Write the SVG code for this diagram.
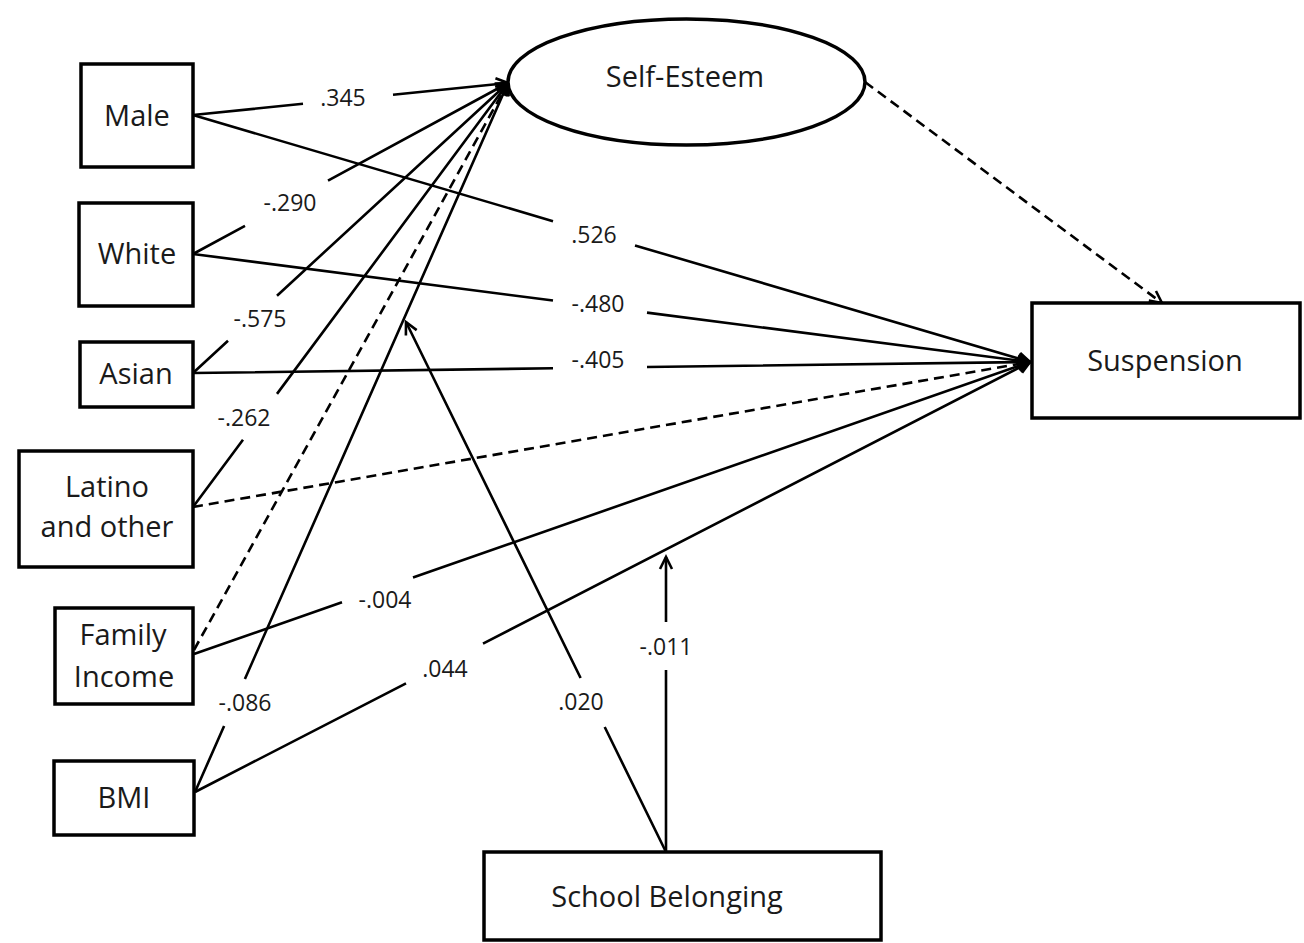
<svg xmlns="http://www.w3.org/2000/svg" width="1304" height="943" viewBox="0 0 1304 943">
<style>
.box{fill:#fff;stroke:#000;stroke-width:3.5}
.lbl{font-family:"Open Sans","Noto Sans",sans-serif;font-size:29px;fill:#1a1a1a;text-anchor:middle}
.val{font-family:"Open Sans","Noto Sans",sans-serif;font-size:23px;fill:#1a1a1a;text-anchor:middle}
.c{fill:none;stroke:#000;stroke-width:2.6;marker-end:url(#ah)}
.d{stroke-dasharray:10 6}
</style>
<defs>
<marker id="ah" markerUnits="userSpaceOnUse" markerWidth="16" markerHeight="14" refX="13" refY="6" orient="auto" overflow="visible">
<path d="M1,0 L13,6 L1,12" fill="none" stroke="#000" stroke-width="2.6"/>
</marker>
</defs>
<rect width="1304" height="943" fill="#fff"/>
<g id="connectors">
<path class="c" d="M193,115 L303,103.8 M393,94.7 L508,83"/>
<path class="c" d="M193,115 L553,221.2 M635,245.4 L1030,362"/>
<path class="c" d="M193,254 L245,225.8 M328,180.7 L508,83"/>
<path class="c" d="M193,254 L553,300.5 M647,312.6 L1030,362"/>
<path class="c" d="M193,373 L228,340.8 M277,295.7 L508,83"/>
<path class="c" d="M193,373 L553,368.3 M647,367 L1030,362"/>
<path class="c" d="M193,507 L243,439.7 M277,393.9 L508,83"/>
<path class="c d" d="M193,507 L1030,362"/>
<path class="c d" d="M194,650 L508,83"/>
<path class="c" d="M194,654 L342,602.3 M413,577.5 L1030,362"/>
<path class="c" d="M195,792 L224.1,726 M244.9,679 L508,83"/>
<path class="c" d="M195,792 L406,683.3 M483,643.7 L1030,362"/>
<path class="c" d="M666,852 L604.7,727 M580.6,678 L406,322"/>
<path class="c" d="M666,852 L666,670 M666,622 L666,557"/>
<path class="c d" d="M865,82 L1162,303"/>
</g>
<g id="labels">
<text class="val" x="343" y="106">.345</text>
<text class="val" x="594" y="243">.526</text>
<text class="val" x="290" y="211">-.290</text>
<text class="val" x="598" y="312">-.480</text>
<text class="val" x="260" y="327">-.575</text>
<text class="val" x="598" y="368">-.405</text>
<text class="val" x="244" y="426">-.262</text>
<text class="val" x="385" y="608">-.004</text>
<text class="val" x="245" y="711">-.086</text>
<text class="val" x="445" y="677">.044</text>
<text class="val" x="581" y="710">.020</text>
<text class="val" x="666" y="655">-.011</text>
</g>
<g id="node-male"><rect class="box" x="81" y="64" width="112" height="103"/><text class="lbl" x="137" y="126">Male</text></g>
<g id="node-white"><rect class="box" x="79" y="203" width="114" height="103"/><text class="lbl" x="137" y="264">White</text></g>
<g id="node-asian"><rect class="box" x="80" y="342" width="113" height="65"/><text class="lbl" x="136" y="384">Asian</text></g>
<g id="node-latino"><rect class="box" x="19" y="451" width="174" height="116"/><text class="lbl" x="107" y="497">Latino</text><text class="lbl" x="107" y="537">and other</text></g>
<g id="node-income"><rect class="box" x="55" y="608" width="138" height="96"/><text class="lbl" x="123" y="645">Family</text><text class="lbl" x="124" y="687">Income</text></g>
<g id="node-bmi"><rect class="box" x="54" y="761" width="140" height="74"/><text class="lbl" x="124" y="808">BMI</text></g>
<g id="node-selfesteem"><ellipse cx="686.5" cy="82" rx="178.5" ry="63" fill="#fff" stroke="#000" stroke-width="3.5"/><text class="lbl" x="685" y="87">Self-Esteem</text></g>
<g id="node-suspension"><rect class="box" x="1032" y="303" width="268" height="115"/><text class="lbl" x="1165" y="371">Suspension</text></g>
<g id="node-school"><rect class="box" x="484" y="852" width="397" height="88"/><text class="lbl" x="667" y="907">School Belonging</text></g>
</svg>
